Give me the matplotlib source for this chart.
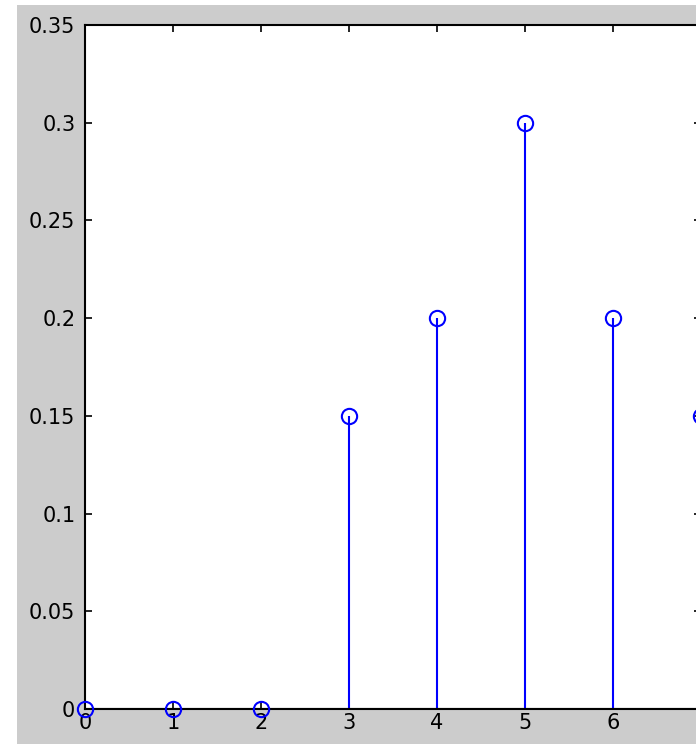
import matplotlib
matplotlib.use("Agg")
import matplotlib.pyplot as plt
from matplotlib.patches import Rectangle
from matplotlib.ticker import FormatStrFormatter, MultipleLocator

x_values = [0, 1, 2, 3, 4, 5, 6, 7]
y_values = [0, 0, 0, 0.15, 0.2, 0.3, 0.2, 0.15]
y_ticks = [0, 0.05, 0.1, 0.15, 0.2, 0.25, 0.3, 0.35]
x_ticks = [0, 1, 2, 3, 4, 5, 6, 7]

W, H = 696, 744
fig = plt.figure(figsize=(W / 100, H / 100), dpi=100)
fig.patch.set_facecolor("white")
# grey MATLAB figure background (cropped screenshot: white strip at left/top)
fig.patches.append(Rectangle((17 / W, 0), 1, 1 - 5 / H, transform=fig.transFigure,
                             facecolor="#cccccc", edgecolor="none", zorder=-10))

left_px, right_px, top_px, bottom_px = 85, 701, 25, 709
ax = fig.add_axes([left_px / W, 1 - bottom_px / H,
                   (right_px - left_px) / W, (bottom_px - top_px) / H])
ax.set_facecolor("white")

markerline, stemlines, baseline = ax.stem(x_values, y_values, basefmt="k-")
plt.setp(stemlines, color="#0000ff", linewidth=1.5)
plt.setp(markerline, color="#0000ff", marker="o", markersize=11,
         markerfacecolor="none", markeredgewidth=1.5, clip_on=False, zorder=5)
plt.setp(baseline, linewidth=1.5)

ax.set_xlim(0, 7)
ax.set_ylim(0, 0.35)
ax.set_xticks(x_ticks)
ax.set_yticks(y_ticks)
ax.yaxis.set_major_formatter(FormatStrFormatter("%g"))
ax.tick_params(direction="in", length=5, width=1.2, top=True, right=True,
               labelsize=15, colors="black")
ax.tick_params(axis="y", pad=7)
ax.tick_params(axis="x", pad=3)
for s in ax.spines.values():
    s.set_linewidth(1.5)
    s.set_color("black")

fig.savefig("out.png", dpi=100)
